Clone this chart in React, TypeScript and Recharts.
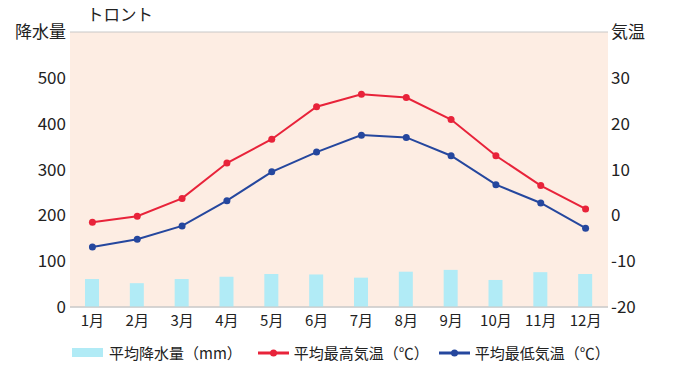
import {
  ComposedChart,
  Bar,
  Line,
  XAxis,
  YAxis,
  CartesianGrid,
  Legend,
} from "recharts";

const months = ["1月", "2月", "3月", "4月", "5月", "6月", "7月", "8月", "9月", "10月", "11月", "12月"];
const precipitation = [61, 52, 61, 66, 72, 71, 64, 77, 81, 59, 76, 72];
const highTemp = [-1.5, -0.2, 3.7, 11.4, 16.6, 23.7, 26.4, 25.7, 20.9, 13.0, 6.5, 1.4];
const lowTemp = [-6.9, -5.2, -2.3, 3.2, 9.5, 13.8, 17.5, 17.0, 13.0, 6.7, 2.7, -2.8];
const rainTicks = [0, 100, 200, 300, 400, 500, 600];
const tempTicks = [-20, -10, 0, 10, 20, 30, 40];

const data = months.map((m, i) => ({
  month: m,
  rain: precipitation[i],
  high: highTemp[i],
  low: lowTemp[i],
}));

const FONT = '"Noto Sans CJK JP", "Noto Sans", sans-serif';
const RED = "#E8233A";
const BLUE = "#25479E";
const CYAN = "#B1EBF6";

const renderLegend = () => (
  <div
    style={{
      display: "flex",
      alignItems: "center",
      fontFamily: FONT,
      fontSize: 15,
      color: "#222",
      paddingLeft: 72,
      paddingTop: 5,
    }}
  >
    <span style={{ display: "inline-block", width: 31, height: 9, background: CYAN, marginRight: 6 }} />
    <span style={{ marginRight: 16 }}>平均降水量（mm）</span>
    <svg width={31} height={10} style={{ marginRight: 5 }}>
      <line x1={0} y1={5} x2={31} y2={5} stroke={RED} strokeWidth={3} />
      <circle cx={15.5} cy={5} r={3.5} fill={RED} />
    </svg>
    <span style={{ marginRight: 10 }}>平均最高気温（℃）</span>
    <svg width={31} height={10} style={{ marginRight: 5 }}>
      <line x1={0} y1={5} x2={31} y2={5} stroke={BLUE} strokeWidth={3} />
      <circle cx={15.5} cy={5} r={3.5} fill={BLUE} />
    </svg>
    <span>平均最低気温（℃）</span>
  </div>
);

const App = () => (
  <div style={{ position: "absolute", left: 0, top: 0, width: 680, height: 383, background: "#fff" }}>
    <div
      style={{
        position: "absolute",
        left: 87,
        top: 2,
        fontFamily: FONT,
        fontSize: 16.5,
        color: "#222",
      }}
    >
      トロント
    </div>
    <ComposedChart
      width={680}
      height={383}
      data={data}
      margin={{ top: 32, right: 0, bottom: 10, left: 0 }}
      barCategoryGap="34%"
    >
      <CartesianGrid vertical={false} stroke="#C8C8C8" fill="#FDEDE3" fillOpacity={1} />
      <XAxis
        dataKey="month"
        axisLine={{ stroke: "#C8C8C8" }}
        tickLine={false}
        tickSize={0}
        tickMargin={8}
        height={30}
        interval={0}
        tick={{ fill: "#222", fontSize: 15, fontFamily: FONT }}
      />
      <YAxis
        yAxisId="rain"
        orientation="left"
        domain={[0, 600]}
        ticks={rainTicks}
        width={70}
        axisLine={false}
        tickLine={false}
        tickSize={0}
        tickMargin={4}
        tickFormatter={(v: number) => (v === 600 ? "降水量" : String(v))}
        tick={{ fill: "#222", fontSize: 17, fontFamily: FONT }}
      />
      <YAxis
        yAxisId="temp"
        orientation="right"
        domain={[-20, 40]}
        ticks={tempTicks}
        width={72}
        axisLine={false}
        tickLine={false}
        tickSize={0}
        tickMargin={3}
        tickFormatter={(v: number) => (v === 40 ? "気温" : String(v))}
        tick={{ fill: "#222", fontSize: 17, fontFamily: FONT }}
      />
      <Legend verticalAlign="bottom" height={36} content={renderLegend} />
      <Bar yAxisId="rain" dataKey="rain" fill={CYAN} barSize={14} isAnimationActive={false} />
      <Line
        yAxisId="temp"
        dataKey="high"
        stroke={RED}
        strokeWidth={2}
        dot={{ r: 3.5, fill: RED, stroke: RED, strokeWidth: 0 }}
        activeDot={false}
        isAnimationActive={false}
      />
      <Line
        yAxisId="temp"
        dataKey="low"
        stroke={BLUE}
        strokeWidth={2}
        dot={{ r: 3.5, fill: BLUE, stroke: BLUE, strokeWidth: 0 }}
        activeDot={false}
        isAnimationActive={false}
      />
    </ComposedChart>
  </div>
);

export default App;
